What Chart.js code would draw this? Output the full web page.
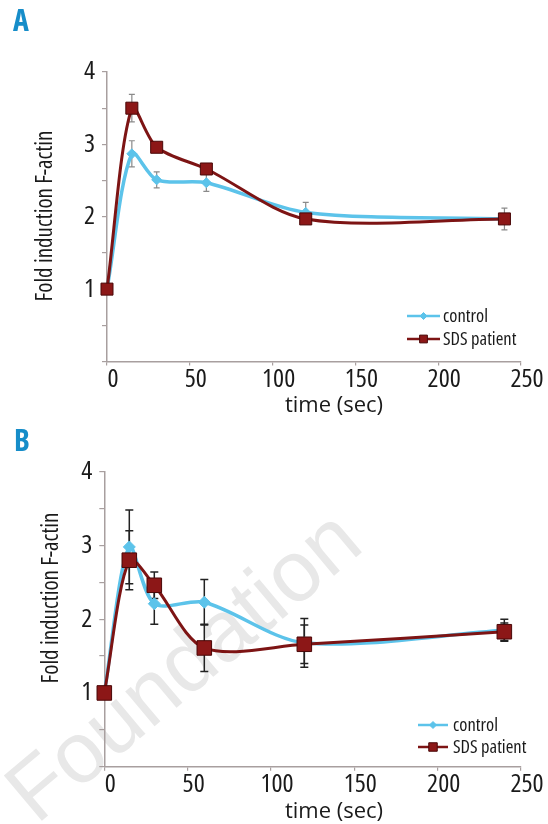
<!DOCTYPE html>
<html><head><meta charset="utf-8">
<script src="https://cdn.jsdelivr.net/npm/chart.js@4.4.0/dist/chart.umd.min.js"></script>
<style>
html,body{margin:0;padding:0;background:#fff;}
#wrap{position:relative;width:548px;height:824px;overflow:hidden;font-family:'Open Sans',sans-serif;color:#1a1a1a;}
canvas{position:absolute;left:0;}
.lbl{position:absolute;white-space:nowrap;line-height:1;transform:translate(-50%,-50%);}
.rot{transform:translate(-50%,-50%) rotate(-90deg);font-size:23px;font-stretch:85%;}
.xt{font-size:22px;font-stretch:92%;}
.panel{position:absolute;font-weight:700;font-stretch:80%;color:#168dc9;font-size:30px;line-height:1;}
.wm{position:absolute;left:-118px;top:621px;width:600px;text-align:center;font-family:'Liberation Sans',Arial,sans-serif;font-size:86px;line-height:1;color:#e8e8e8;transform:rotate(-40deg);transform-origin:50% 50%;}
</style></head><body>
<div id="wrap">
<div class="wm">Foundation</div>
<canvas id="cA" width="548" height="412" style="top:0"></canvas>
<canvas id="cB" width="548" height="412" style="top:412px"></canvas>
<div class="panel" style="left:13px;top:5px">A</div>
<div class="panel" style="left:14px;top:425px">B</div>
<div class="lbl rot" style="left:43px;top:216px">Fold induction F-actin</div>
<div class="lbl rot" style="left:49px;top:598px">Fold induction F-actin</div>
<div class="lbl xt" style="left:334px;top:403px">time (sec)</div>
<div class="lbl xt" style="left:334px;top:809px">time (sec)</div>
</div>
<script>
// ---- data ----
const timeSec = [0, 15, 30, 60, 120, 240];
const xTicks = [0, 50, 100, 150, 200, 250];
const yTickLabels = ['1', '2', '3', '4'];
const seriesNames = ['control', 'SDS patient'];

const controlA = [1.0, 2.87, 2.51, 2.47, 2.06, 1.97];
const sdsA     = [1.0, 3.50, 2.96, 2.66, 1.97, 1.97];
const controlAErr = [0, 0.18, 0.11, 0.12, 0.14, 0.05];
const sdsAErr     = [0, 0.19, 0.04, 0.04, 0.04, 0.15];

const controlB = [1.0, 2.98, 2.21, 2.23, 1.68, 1.85];
const sdsB     = [1.0, 2.80, 2.46, 1.61, 1.66, 1.83];
const controlBErr = [0, 0.50, 0.28, 0.31, 0.33, 0.15];
const sdsBErr     = [0, 0.40, 0.18, 0.32, 0.26, 0.12];

// ---- rendering ----
const FONT = "'Open Sans', sans-serif";
const AXIS = '#a89f9f';
const BLUE = '#5cc3ea';
const RED = '#7d1414';
const RED_FILL = '#8c1717';

// condensed text in canvas (Open Sans has a width axis)
function condensedContext(canvas) {
  const ctx = canvas.getContext('2d');
  const d = Object.getOwnPropertyDescriptor(CanvasRenderingContext2D.prototype, 'font');
  Object.defineProperty(ctx, 'font', {
    configurable: true,
    get() { return d.get.call(this); },
    set(v) { d.set.call(this, v); this.fontStretch = this.__stretch || 'condensed'; }
  });
  return ctx;
}

const errorBars = {
  id: 'errorBars',
  beforeDatasetsDraw(chart, args, opts) {
    const {ctx} = chart;
    const xs = chart.scales.x, ys = chart.scales.y;
    ctx.save();
    ctx.strokeStyle = opts.color;
    ctx.lineWidth = opts.width;
    chart.data.datasets.forEach(ds => {
      ds.data.forEach((p, i) => {
        const e = ds.errors[i];
        if (!e) return;
        const px = xs.getPixelForValue(p.x);
        const top = ys.getPixelForValue(p.y + e);
        const bot = ys.getPixelForValue(p.y - e);
        ctx.beginPath();
        ctx.moveTo(px, top); ctx.lineTo(px, bot);
        ctx.moveTo(px - opts.cap, top); ctx.lineTo(px + opts.cap, top);
        ctx.moveTo(px - opts.cap, bot); ctx.lineTo(px + opts.cap, bot);
        ctx.stroke();
      });
    });
    ctx.restore();
  }
};

const innerLegend = {
  id: 'innerLegend',
  afterDraw(chart, args, opts) {
    const {ctx} = chart;
    ctx.save();
    ctx.__stretch = 'semi-condensed';
    ctx.font = opts.fontSize + 'px ' + FONT;
    ctx.textBaseline = 'middle';
    [0, 1].forEach((di, row) => {
      const ds = chart.data.datasets[di];
      const y = opts.y + row * opts.rowGap;
      ctx.strokeStyle = ds.borderColor;
      ctx.lineWidth = 2.5;
      ctx.beginPath();
      ctx.moveTo(opts.x, y); ctx.lineTo(opts.x + opts.lineLen, y);
      ctx.stroke();
      const cx = opts.x + opts.lineLen / 2;
      ctx.fillStyle = ds.pointBackgroundColor;
      ctx.strokeStyle = ds.pointBorderColor;
      ctx.lineWidth = 1;
      Chart.helpers.drawPoint(ctx, {pointStyle: ds.pointStyle, radius: opts.markR[row], borderWidth: 1}, cx, y);
      ctx.fillStyle = '#1a1a1a';
      ctx.fillText(ds.label, opts.x + opts.lineLen + opts.textGap, y + 1);
    });
    ctx.__stretch = null;
    ctx.restore();
  }
};

function makeChart(id, ctrl, sds, ctrlErr, sdsErr, geo) {
  const pts = arr => timeSec.map((t, i) => ({x: t, y: arr[i]}));
  return new Chart(condensedContext(document.getElementById(id)), {
    type: 'line',
    data: {
      datasets: [
        {label: seriesNames[0], data: pts(ctrl), errors: ctrlErr, order: 2, clip: false,
         borderColor: BLUE, borderWidth: 3.5, tension: 0.3,
         pointStyle: 'rectRot', pointRadius: geo.diamondR, pointBackgroundColor: BLUE, pointBorderColor: BLUE, pointBorderWidth: 1},
        {label: seriesNames[1], data: pts(sds), errors: sdsErr, order: 1, clip: false,
         borderColor: RED, borderWidth: 3, tension: 0.3,
         pointStyle: 'rect', pointRadius: geo.squareR, pointBackgroundColor: RED_FILL, pointBorderColor: '#4a0808', pointBorderWidth: 1}
      ]
    },
    options: {
      responsive: false, animation: false, devicePixelRatio: 1,
      layout: {padding: {left: 0, top: geo.top, right: geo.right, bottom: 0}},
      plugins: {
        legend: {display: false}, tooltip: {enabled: false},
        errorBars: geo.err,
        innerLegend: geo.legend
      },
      scales: {
        x: {
          type: 'linear', min: 0, max: 250,
          afterBuildTicks: s => { s.ticks = xTicks.map(v => ({value: v})); },
          afterFit: s => { s.height = geo.xh; },
          border: {display: true, color: AXIS, width: 1.5},
          grid: {display: true, drawOnChartArea: false, drawTicks: true, tickLength: 4, color: AXIS, lineWidth: 1.2},
          ticks: {font: {family: FONT, size: 26, lineHeight: 1}, color: '#1a1a1a', padding: 1, labelOffset: 6, maxRotation: 0}
        },
        y: {
          type: 'linear', min: 0, max: 4,
          ticks: {stepSize: 0.5, font: {family: FONT, size: 26, lineHeight: 1}, color: '#1a1a1a', padding: 7,
                  callback: v => (Number.isInteger(v) && v >= 1) ? yTickLabels[v - 1] : ''},
          afterFit: s => { s.width = geo.yw; },
          border: {display: true, color: AXIS, width: 1.5},
          grid: {display: true, drawOnChartArea: false, drawTicks: true, tickLength: 5, color: AXIS, lineWidth: 1.2}
        }
      }
    },
    plugins: [errorBars, innerLegend]
  });
}

makeChart('cA', controlA, sdsA, controlAErr, sdsAErr, {
  top: 72, right: 27, yw: 107, xh: 50.5, diamondR: 5, squareR: 8.5,
  err: {color: '#8a8a8a', width: 1.2, cap: 3},
  legend: {x: 407, y: 316, rowGap: 23, lineLen: 33, textGap: 3, fontSize: 18.5, markR: [3.5, 5.5]}
});
makeChart('cB', controlB, sdsB, controlBErr, sdsBErr, {
  top: 59.7, right: 27, yw: 104.3, xh: 57.3, diamondR: 6, squareR: 10.3,
  err: {color: '#222222', width: 1.5, cap: 4},
  legend: {x: 418, y: 313, rowGap: 22, lineLen: 30, textGap: 5, fontSize: 18.5, markR: [3.5, 6]}
});
</script>
</body></html>
